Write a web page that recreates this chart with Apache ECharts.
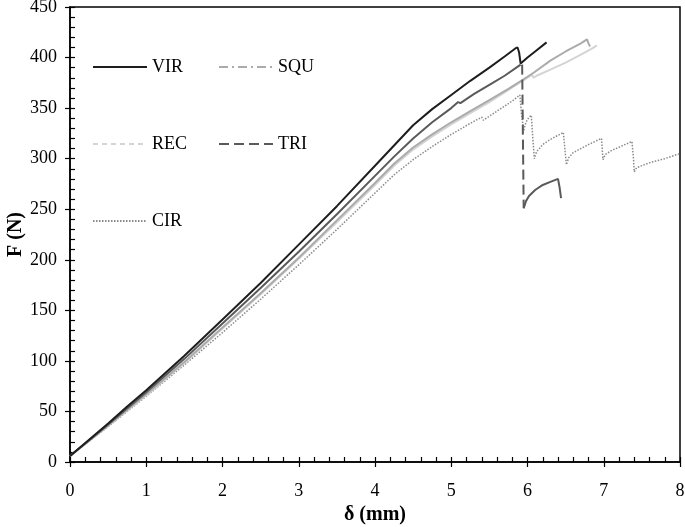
<!DOCTYPE html>
<html>
<head>
<meta charset="utf-8">
<script src="https://cdn.jsdelivr.net/npm/echarts@6/dist/echarts.min.js"></script>
<style>
    html, body { margin: 0; padding: 0; background: #fff; }
    #chart { width: 685px; height: 527px; }
</style>
</head>
<body>
<div id="chart"></div>
<script>
    // [delta (mm), F (N)]
    const vir = [[0, 6], [0.25, 22], [0.5, 38], [0.75, 55], [1, 71], [1.5, 105], [2, 141], [2.5, 177], [3, 215],
        [3.5, 253], [4, 293], [4.25, 313], [4.5, 333], [4.75, 349], [5, 363], [5.25, 377], [5.5, 390], [5.7, 401],
        [5.84, 409], [5.87, 410], [5.89, 405], [5.91, 394], [6.0, 400], [6.1, 406], [6.25, 415]];
    const triLoad = [[0, 6], [0.5, 37], [1, 69], [1.5, 102], [2, 137], [2.5, 172], [3, 208], [3.5, 245], [4, 283],
        [4.25, 302], [4.5, 320], [4.75, 336], [5.0, 350], [5.09, 356], [5.12, 355], [5.3, 364], [5.5, 373],
        [5.7, 382], [5.91, 393]];
    const triDrop = [[5.93, 393], [5.95, 251]];
    const triReload = [[5.95, 251], [5.98, 258], [6.02, 263], [6.1, 269], [6.2, 274], [6.3, 277], [6.4, 280],
        [6.42, 272], [6.44, 261]];
    const squ = [[0, 6], [0.5, 36], [1, 67], [1.5, 99], [2, 133], [2.5, 167], [3, 202], [3.5, 239], [4, 276],
        [4.25, 295], [4.5, 311], [4.75, 324], [5, 336], [5.25, 347], [5.5, 358], [5.75, 369], [6.0, 381],
        [6.08, 385], [6.3, 397], [6.5, 406], [6.7, 414], [6.78, 418], [6.8, 414], [6.82, 411]];
    const rec = [[0, 6], [0.5, 36], [1, 66], [1.5, 98], [2, 132], [2.5, 166], [3, 201], [3.5, 237], [4, 274],
        [4.25, 293], [4.5, 309], [4.75, 322], [5, 334], [5.25, 345], [5.5, 356], [5.75, 368], [6.0, 380],
        [6.06, 383], [6.08, 380], [6.12, 382], [6.3, 388], [6.5, 395], [6.7, 403], [6.85, 409], [6.87, 410],
        [6.91, 412]];
    const cir = [[0, 6], [0.5, 35], [1, 65], [1.5, 96], [2, 128], [2.5, 161], [3, 195], [3.5, 230], [4, 266],
        [4.25, 284], [4.5, 299], [4.75, 312], [5, 324], [5.25, 335], [5.4, 341], [5.42, 338], [5.6, 347],
        [5.8, 357], [5.9, 363], [5.92, 345], [5.95, 328], [5.98, 336], [6.02, 341], [6.05, 343], [6.07, 320],
        [6.09, 300], [6.12, 307], [6.2, 314], [6.3, 319], [6.47, 326], [6.49, 310], [6.51, 294], [6.54, 301],
        [6.6, 306], [6.8, 314], [6.97, 320], [6.98, 310], [6.99, 299], [7.02, 304], [7.1, 308], [7.25, 313],
        [7.37, 317], [7.39, 300], [7.4, 287], [7.43, 291], [7.6, 296], [7.8, 300], [8.0, 305]];

    const font = 'Liberation Serif';

    function curve(name, data, color, width, type) {
        return {
            name: name,
            type: 'line',
            data: data,
            symbol: 'none',
            lineStyle: { color: color, width: width, type: type },
            itemStyle: { color: color },
            emphasis: { disabled: true }
        };
    }

    function legendColumn(left, items) {
        return {
            orient: 'vertical',
            left: left,
            top: 58,
            padding: 0,
            itemWidth: 54,
            itemHeight: 14,
            itemGap: 59,
            itemStyle: { color: 'rgba(0,0,0,0)', borderWidth: 0, opacity: 0 },
            textStyle: { fontFamily: font, fontSize: 18, color: '#000' },
            data: items
        };
    }

    let myChart = echarts.init(document.getElementById('chart'));
    myChart.setOption({
        animation: false,
        textStyle: { fontFamily: font },
        grid: {
            left: 70,
            right: 5,
            top: 7,
            bottom: 65,
            outerBoundsMode: 'none',
            show: true,
            borderColor: '#000',
            borderWidth: 1.5
        },
        legend: [
            legendColumn(92, [
                { name: 'VIR' },
                { name: 'REC', lineStyle: { type: [5, 4] } },
                { name: 'CIR', lineStyle: { type: [1.5, 1.5] } }
            ]),
            legendColumn(218, [
                { name: 'SQU', lineStyle: { type: [9, 4, 2, 4] } },
                { name: 'TRI', lineStyle: { type: [10, 5] } }
            ])
        ],
        xAxis: [
            {
                type: 'value',
                min: 0,
                max: 8,
                interval: 1,
                name: 'δ (mm)',
                nameLocation: 'middle',
                nameGap: 43,
                nameMoveOverlap: false,
                nameTextStyle: { fontFamily: font, fontSize: 20, fontWeight: 'bold', color: '#000' },
                axisLine: { lineStyle: { color: '#000', width: 1.5 } },
                axisTick: { inside: true, length: 5, lineStyle: { color: '#000', width: 1.2 } },
                minorTick: { show: true, splitNumber: 5, length: 5, lineStyle: { color: '#000', width: 1.2 } },
                axisLabel: { margin: 20, fontFamily: font, fontSize: 18, color: '#000' },
                splitLine: { show: false }
            },
            {
                type: 'value',
                min: 0,
                max: 8,
                interval: 1,
                position: 'bottom',
                axisLine: { show: false },
                axisTick: { inside: false, length: 5, lineStyle: { color: '#000', width: 1.2 } },
                axisLabel: { show: false },
                splitLine: { show: false }
            }
        ],
        yAxis: [
            {
                type: 'value',
                min: 0,
                max: 450,
                interval: 50,
                name: 'F (N)',
                nameLocation: 'middle',
                nameGap: 44,
                nameMoveOverlap: false,
                nameTextStyle: { fontFamily: font, fontSize: 20, fontWeight: 'bold', color: '#000' },
                axisLine: { show: true, lineStyle: { color: '#000', width: 1.5 } },
                axisTick: { show: true, inside: true, length: 5, lineStyle: { color: '#000', width: 1.2 } },
                minorTick: { show: true, splitNumber: 5, length: 5, lineStyle: { color: '#000', width: 1.2 } },
                axisLabel: { margin: 13, fontFamily: font, fontSize: 18, color: '#000' },
                splitLine: { show: false }
            },
            {
                type: 'value',
                min: 0,
                max: 450,
                interval: 50,
                position: 'left',
                axisLine: { show: false },
                axisTick: { show: true, inside: false, length: 5, lineStyle: { color: '#000', width: 1.2 } },
                axisLabel: { show: false },
                splitLine: { show: false }
            }
        ],
        series: [
            curve('CIR', cir, '#8a8a8a', 1.5, [1.5, 1.5]),
            curve('REC', rec, '#d4d4d4', 2, 'solid'),
            curve('SQU', squ, '#ababab', 2, 'solid'),
            curve('TRI', triLoad, '#5a5a5a', 2, 'solid'),
            curve('TRI', triDrop, '#5a5a5a', 2, [10, 5]),
            curve('TRI', triReload, '#5a5a5a', 2, 'solid'),
            curve('VIR', vir, '#1e1e1e', 2, 'solid')
        ]
    });
</script>
</body>
</html>
